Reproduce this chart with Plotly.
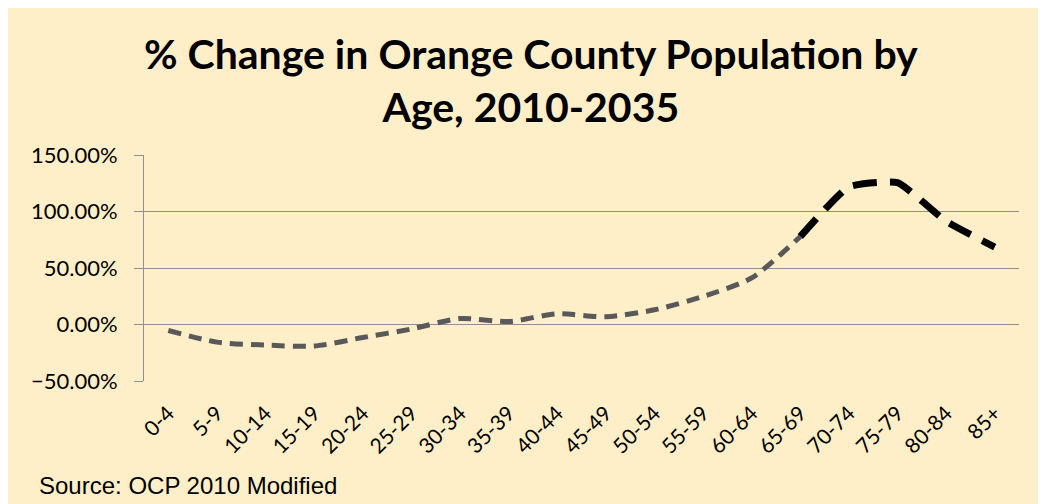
import plotly.graph_objects as go

# ---- data ----
age_groups = ["0-4", "5-9", "10-14", "15-19", "20-24", "25-29", "30-34", "35-39",
              "40-44", "45-49", "50-54", "55-59", "60-64", "65-69", "70-74",
              "75-79", "80-84", "85+"]
pct_change = [-0.053, -0.156, -0.182, -0.191, -0.115, -0.040, 0.053, 0.026,
              0.095, 0.068, 0.130, 0.248, 0.412, 0.778, 1.218, 1.255, 0.914, 0.685]
split_idx = 13  # "65-69": gray series ends, black series starts

title_text = "% Change in Orange County Population by<br>Age, 2010-2035"
source_text = "Source: OCP 2010 Modified"

BG = "#FFEFC9"
GRID = "#8F8F8F"

fig = go.Figure()

fig.add_trace(go.Scatter(
    x=age_groups[split_idx:], y=pct_change[split_idx:],
    mode="lines", line=dict(color="#000000", width=7, dash="24px,13px", shape="spline", smoothing=0.45),
    showlegend=False, hoverinfo="skip"))
fig.add_trace(go.Scatter(
    x=age_groups[:split_idx + 1], y=pct_change[:split_idx + 1],
    mode="lines", line=dict(color="#595959", width=5, dash="13px,8px", shape="spline", smoothing=0.7),
    showlegend=False, hoverinfo="skip"))

n = len(age_groups)
fig.update_layout(
    width=1038, height=496,
    paper_bgcolor=BG, plot_bgcolor=BG,
    margin=dict(l=136, r=27, t=147, b=123),
    xaxis=dict(type="category", categoryorder="array", categoryarray=age_groups,
               range=[-0.5, n - 0.5], showgrid=False, showline=False, ticks="",
               tickangle=-45, ticklabelstandoff=15,
               tickfont=dict(family="Lato", size=21, color="#000000"),
               zeroline=False),
    xaxis2=dict(overlaying="x", anchor="free", position=0.25, range=[-0.5, n - 0.5],
                tickvals=[i - 0.5 for i in range(n + 1)], showticklabels=False,
                ticks="outside", ticklen=8, tickcolor=GRID, tickwidth=1,
                showgrid=False, showline=False, zeroline=False),
    yaxis=dict(range=[-0.5, 1.5], dtick=0.5, tick0=0, tickformat=".2%",
               showgrid=True, gridcolor=GRID, gridwidth=1,
               showline=True, linecolor=GRID, linewidth=1,
               ticks="outside", ticklen=9, tickcolor=GRID, ticklabelstandoff=12,
               zeroline=False, tickfont=dict(family="Lato", size=22, color="#000000")),
    annotations=[
        dict(text=title_text, xref="paper", yref="paper", x=0.4423, y=1.565,
             xanchor="center", yanchor="top", showarrow=False, align="center",
             font=dict(family="Lato", size=41, color="#000000", weight="bold")),
        dict(text=source_text, xref="paper", yref="paper", x=-0.1225, y=-0.4646,
             xanchor="left", yanchor="middle", showarrow=False,
             font=dict(family="Liberation Sans", size=24, color="#000000")),
    ],
)

fig.write_html("out.html")
